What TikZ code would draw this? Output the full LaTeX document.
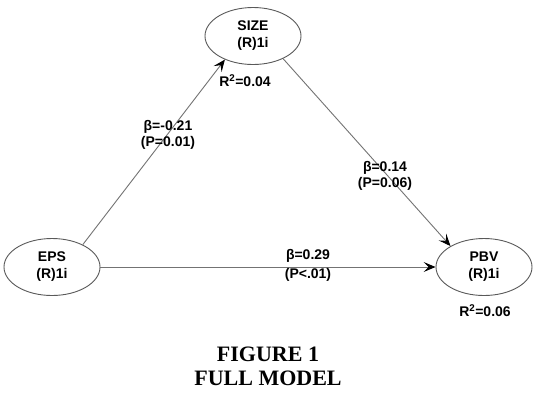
\documentclass[tikz,border=0pt]{standalone}
\usepackage{fontspec}
\setmainfont{Liberation Serif}
\setsansfont{Liberation Sans}
\usetikzlibrary{shapes.geometric,arrows.meta}
\begin{document}
\begin{tikzpicture}[x=1pt,y=-1pt,
  var/.style={ellipse,draw=black!65,line width=0.9pt,inner sep=0pt,
    minimum width=96pt,minimum height=57pt,align=center,
    font=\sffamily\bfseries\fontsize{14}{17}\selectfont},
  lbl/.style={align=center,inner sep=0pt,
    font=\sffamily\bfseries\fontsize{14}{16}\selectfont},
  conn/.style={draw=black!55,line width=0.9pt,
    -{Stealth[length=12pt,width=10pt,inset=5pt,black]}},
  captxt/.style={font=\rmfamily\bfseries\fontsize{22}{24}\selectfont,inner sep=0pt}]
\useasboundingbox[fill=white] (0,0) rectangle (536,416);
\node[var] (size) at (253,36) {SIZE\\(R)1i};
\node[var] (eps) at (52,267) {EPS\\(R)1i};
\node[var] (pbv) at (484,267) {PBV\\(R)1i};
\node[lbl] (r2size) at (245,81) {R\textsuperscript{2}=0.04};
\node[lbl] (r2pbv) at (485,311) {R\textsuperscript{2}=0.06};
\draw[conn] (eps.36) -- (size.220);
\draw[conn] (size.323) -- (pbv.148);
\draw[conn] (eps.east) -- (pbv.west);
\node[lbl] (l1) at (168,135) {β=-0.21\\(P=0.01)};
\node[lbl] (l2) at (385,176) {β=0.14\\(P=0.06)};
\node[lbl,anchor=south] (l3a) at (308,263) {β=0.29};
\node[lbl,anchor=north] (l3b) at (308,268) {(P<.01)};
\node[captxt] (c1) at (268,354) {FIGURE 1};
\node[captxt] (c2) at (268,378) {FULL MODEL};
\end{tikzpicture}
\end{document}
